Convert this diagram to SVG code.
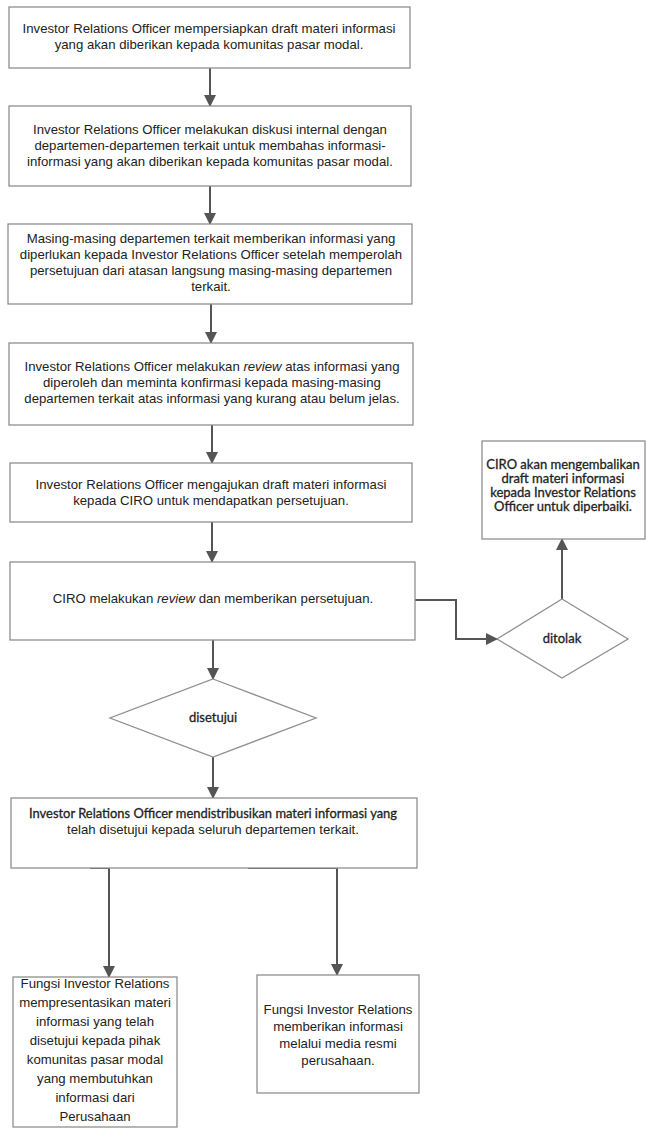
<svg xmlns="http://www.w3.org/2000/svg" width="647" height="1134" viewBox="0 0 647 1134">
<style>
.box{fill:#fff;stroke:#8f8f8f;stroke-width:1.3}
.t{font-family:"Liberation Sans",Arial,sans-serif;font-size:13.2px;fill:#222;text-anchor:middle}
.c{font-family:Lato,"Open Sans",sans-serif;font-size:13px;fill:#222;stroke:#222;stroke-width:0.3;text-anchor:middle}
.ln{fill:none;stroke:#555;stroke-width:2}
</style>
<defs>
<marker id="ah" viewBox="0 0 12 12" refX="11" refY="6" markerWidth="12" markerHeight="12" markerUnits="userSpaceOnUse" orient="auto">
<path d="M0,0 L12,6 L0,12 Z" fill="#555"/>
</marker>
</defs>
<rect width="647" height="1134" fill="#fff"/>
<g id="connectors">
<line class="ln" x1="210" y1="68" x2="210" y2="106" marker-end="url(#ah)"/>
<line class="ln" x1="210" y1="186" x2="210" y2="224" marker-end="url(#ah)"/>
<line class="ln" x1="211" y1="304" x2="211" y2="343" marker-end="url(#ah)"/>
<line class="ln" x1="212" y1="425" x2="212" y2="463" marker-end="url(#ah)"/>
<line class="ln" x1="212" y1="522" x2="212" y2="562" marker-end="url(#ah)"/>
<line class="ln" x1="213" y1="640" x2="213" y2="679" marker-end="url(#ah)"/>
<line class="ln" x1="213" y1="757" x2="213" y2="798" marker-end="url(#ah)"/>
<path class="ln" d="M415,600 H456 V639 H497" marker-end="url(#ah)"/>
<line class="ln" x1="562" y1="599" x2="562" y2="539" marker-end="url(#ah)"/>
<path class="ln" d="M90,868 H109 V977" marker-end="url(#ah)"/>
<path class="ln" d="M248,868 H337 V975" marker-end="url(#ah)"/>
</g>
<g id="n1">
<rect class="box" x="9" y="7" width="401" height="61"/>
<text class="t" x="209" y="33">Investor Relations Officer mempersiapkan draft materi informasi</text>
<text class="t" x="209" y="49">yang akan diberikan kepada komunitas pasar modal.</text>
</g>
<g id="n2">
<rect class="box" x="9" y="106" width="402" height="80"/>
<text class="t" x="210" y="134">Investor Relations Officer melakukan diskusi internal dengan</text>
<text class="t" x="210" y="150">departemen-departemen terkait untuk membahas informasi-</text>
<text class="t" x="210" y="166">informasi yang akan diberikan kepada komunitas pasar modal.</text>
</g>
<g id="n3">
<rect class="box" x="8" y="224" width="404" height="80"/>
<text class="t" x="211" y="243">Masing-masing departemen terkait memberikan informasi yang</text>
<text class="t" x="211" y="259">diperlukan kepada Investor Relations Officer setelah memperolah</text>
<text class="t" x="211" y="275">persetujuan dari atasan langsung masing-masing departemen</text>
<text class="t" x="211" y="291">terkait.</text>
</g>
<g id="n4">
<rect class="box" x="9" y="343" width="404" height="82"/>
<text class="t" x="212" y="371">Investor Relations Officer melakukan <tspan font-style="italic">review</tspan> atas informasi yang</text>
<text class="t" x="212" y="387">diperoleh dan meminta konfirmasi kepada masing-masing</text>
<text class="t" x="212" y="403">departemen terkait atas informasi yang kurang atau belum jelas.</text>
</g>
<g id="n5">
<rect class="box" x="10" y="463" width="402" height="59"/>
<text class="t" x="211" y="489">Investor Relations Officer mengajukan draft materi informasi</text>
<text class="t" x="211" y="505">kepada CIRO untuk mendapatkan persetujuan.</text>
</g>
<g id="n6">
<rect class="box" x="10" y="562" width="405" height="78"/>
<text class="t" x="213" y="603">CIRO melakukan <tspan font-style="italic">review</tspan> dan memberikan persetujuan.</text>
</g>
<g id="d1">
<polygon class="box" points="213,679 316,718 213,757 110,718"/>
<text class="c" x="213" y="722">disetujui</text>
</g>
<g id="n7">
<rect class="box" x="11" y="798" width="406" height="70"/>
<text class="c" x="213" y="817.5" textLength="368" lengthAdjust="spacingAndGlyphs">Investor Relations Officer mendistribusikan materi informasi yang</text>
<text class="t" x="213" y="833.5">telah disetujui kepada seluruh departemen terkait.</text>
</g>
<g id="n8a">
<rect class="box" x="13" y="977" width="164" height="150"/>
<text class="t" x="95" y="988">Fungsi Investor Relations</text>
<text class="t" x="95" y="1007">mempresentasikan materi</text>
<text class="t" x="95" y="1026">informasi yang telah</text>
<text class="t" x="95" y="1045">disetujui kepada pihak</text>
<text class="t" x="95" y="1064">komunitas pasar modal</text>
<text class="t" x="95" y="1083">yang membutuhkan</text>
<text class="t" x="95" y="1102">informasi dari</text>
<text class="t" x="95" y="1121">Perusahaan</text>
</g>
<g id="n8b">
<rect class="box" x="257" y="975" width="162" height="118"/>
<text class="t" x="338" y="1014">Fungsi Investor Relations</text>
<text class="t" x="338" y="1031">memberikan informasi</text>
<text class="t" x="338" y="1048">melalui media resmi</text>
<text class="t" x="338" y="1065">perusahaan.</text>
</g>
<g id="n9">
<rect class="box" x="482" y="441" width="163" height="98"/>
<text class="c" x="563" y="469">CIRO akan mengembalikan</text>
<text class="c" x="563" y="483">draft materi informasi</text>
<text class="c" x="563" y="497">kepada Investor Relations</text>
<text class="c" x="563" y="511">Officer untuk diperbaiki.</text>
</g>
<g id="d2">
<polygon class="box" points="562,599 628,639 562,678 497,639"/>
<text class="c" x="562" y="643">ditolak</text>
</g>
</svg>
